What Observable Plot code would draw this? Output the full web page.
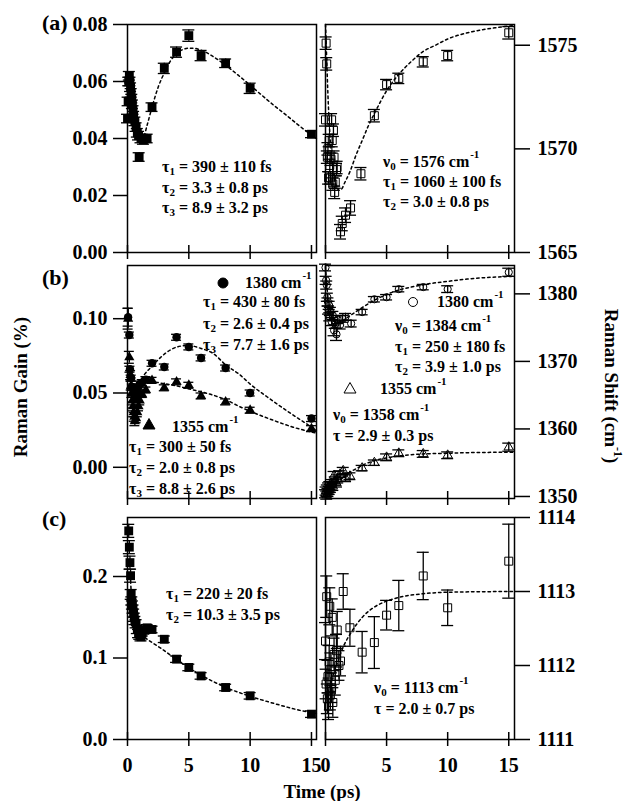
<!DOCTYPE html>
<html><head><meta charset="utf-8">
<script src="https://cdn.jsdelivr.net/npm/d3@7"></script>
<script src="https://cdn.jsdelivr.net/npm/@observablehq/plot@0.6"></script>
<style>
body{margin:0;background:#fff;}
#chart{position:relative;width:624px;height:801px;font-family:"Liberation Serif","Times New Roman",serif;font-weight:bold;color:#000;overflow:hidden;}
.ann{position:absolute;white-space:nowrap;font:bold 16px "Liberation Serif","Times New Roman",serif;line-height:16px;}
.ann sub{font-size:11px;vertical-align:baseline;position:relative;top:3px;}
.ann sup{font-size:11px;vertical-align:baseline;position:relative;top:-9px;margin-left:1px;}
.ttl{position:absolute;white-space:nowrap;font:bold 19px "Liberation Serif","Times New Roman",serif;line-height:19px;}
.ttl sup{font-size:12px;vertical-align:baseline;position:relative;top:-9px;}
.plab{position:absolute;white-space:nowrap;font:bold 22px "Liberation Serif","Times New Roman",serif;line-height:22px;}
</style></head><body><div id="chart"></div>
<script>
// ---------- data ----------
const xTicks = [0, 5, 10, 15];

// (a) gain, filled squares
const aGainT = [0, 0.05, 0.1, 0.15, 0.2, 0.25, 0.3, 0.35, 0.4, 0.45, 0.5, 0.6, 0.7, 0.8, 0.9, 0.95, 1.1, 1.3, 1.6, 2, 3, 4, 5, 6, 8, 10, 15];
const aGainV = [0.047, 0.053, 0.060, 0.062, 0.060, 0.058, 0.056, 0.054, 0.052, 0.050, 0.048, 0.046, 0.044, 0.042, 0.041, 0.0335, 0.040, 0.0395, 0.040, 0.051, 0.0646, 0.0703, 0.0761, 0.0691, 0.0664, 0.0576, 0.0415];
const aGainE = [0.0015, 0.0015, 0.0015, 0.0015, 0.0015, 0.0015, 0.0015, 0.0015, 0.0015, 0.0015, 0.0015, 0.0015, 0.0015, 0.0015, 0.0015, 0.0015, 0.0015, 0.0015, 0.0015, 0.0015, 0.0018, 0.0018, 0.002, 0.0018, 0.0015, 0.0018, 0.0012];
const aGainFitT = [0.3, 0.6, 1.0, 1.3, 1.6, 2, 2.5, 3, 3.5, 4, 4.5, 5, 5.5, 6, 7, 8, 9, 10, 11, 12, 13, 14, 15, 15.4];
const aGainFitV = [0.055, 0.045, 0.040, 0.0405, 0.0447, 0.051, 0.058, 0.063, 0.0672, 0.0698, 0.0712, 0.0717, 0.0716, 0.0710, 0.0687, 0.0657, 0.0623, 0.0587, 0.055, 0.0514, 0.048, 0.0445, 0.0412, 0.040];

// (a) shift, open squares
const aShiftT = [0, 0.05, 0.1, 0.15, 0.2, 0.25, 0.3, 0.35, 0.4, 0.45, 0.5, 0.55, 0.6, 0.65, 0.7, 0.75, 0.8, 0.9, 0.95, 1.23, 1.37, 1.64, 2.05, 2.9, 4, 5, 6, 8, 10, 15];
const aShiftV = [1571.4, 1575.1, 1574.1, 1569.6, 1570.0, 1568.6, 1570.4, 1569.2, 1568.6, 1569.5, 1571.4, 1570.4, 1568.3, 1570.9, 1569.6, 1567.9, 1568.4, 1569.0, 1569.1, 1566.0, 1566.4, 1566.8, 1567.15, 1568.8, 1571.6, 1573.1, 1573.4, 1574.2, 1574.5, 1575.6];
const aShiftE = [0.3, 0.3, 0.3, 0.3, 0.3, 0.3, 0.3, 0.3, 0.3, 0.3, 0.3, 0.3, 0.3, 0.3, 0.3, 0.3, 0.3, 0.3, 0.3, 0.35, 0.35, 0.35, 0.35, 0.3, 0.3, 0.25, 0.25, 0.25, 0.25, 0.3];
const aShiftFitT = [0, 0.1, 0.2, 0.35, 0.5, 0.7, 0.9, 1.1, 1.3, 1.6, 2, 2.5, 3, 3.5, 4, 5, 6, 7, 8, 9, 10, 12, 14, 15.4];
const aShiftFitV = [1576, 1574.3, 1572.6, 1570.8, 1569.7, 1568.7, 1568.2, 1568.0, 1568.05, 1568.4, 1568.9, 1569.7, 1570.4, 1571.1, 1571.7, 1572.8, 1573.6, 1574.2, 1574.7, 1575.0, 1575.3, 1575.65, 1575.85, 1575.95];

// (b) gain: 1380 (circles) and 1355 (triangles)
const b1380GainT = [0.05, 0.15, 0.2, 0.3, 0.4, 0.5, 0.6, 0.7, 0.8, 0.9, 1.0, 1.2, 1.5, 2, 3, 4, 5, 6, 8, 10, 15];
const b1380GainV = [0.101, 0.089, 0.066, 0.060, 0.054, 0.050, 0.047, 0.049, 0.052, 0.054, 0.056, 0.057, 0.059, 0.070, 0.0675, 0.0875, 0.081, 0.0736, 0.0668, 0.050, 0.0328];
const b1380GainE = [0.006, 0.002, 0.002, 0.002, 0.002, 0.002, 0.002, 0.002, 0.002, 0.002, 0.002, 0.002, 0.002, 0.002, 0.002, 0.002, 0.002, 0.002, 0.002, 0.002, 0.002];
const b1355GainT = [0.05, 0.15, 0.25, 0.3, 0.35, 0.4, 0.45, 0.5, 0.55, 0.6, 0.7, 0.8, 0.9, 1.0, 1.2, 1.5, 2, 3, 4, 5, 6, 8, 10, 15];
const b1355GainV = [0.100, 0.074, 0.062, 0.055, 0.050, 0.045, 0.041, 0.037, 0.034, 0.031, 0.033, 0.037, 0.041, 0.045, 0.049, 0.052, 0.0585, 0.0535, 0.0575, 0.0552, 0.048, 0.044, 0.0384, 0.026];
const b1355GainE = [0.007, 0.004, 0.003, 0.003, 0.003, 0.003, 0.003, 0.003, 0.003, 0.003, 0.003, 0.003, 0.003, 0.003, 0.002, 0.002, 0.002, 0.002, 0.002, 0.002, 0.002, 0.002, 0.002, 0.002];
const b1380GainFitT = [0.8, 1.0, 1.33, 2, 2.7, 3.5, 4.05, 4.87, 6, 7, 8, 9.2, 10, 11.4, 13, 15.4];
const b1380GainFitV = [0.057, 0.058, 0.062, 0.068, 0.074, 0.079, 0.081, 0.082, 0.080, 0.0765, 0.069, 0.062, 0.056, 0.0473, 0.038, 0.025];
const b1355GainFitT = [0.8, 1.0, 1.3, 2, 2.96, 4, 4.87, 6, 7, 8, 9.2, 10.5, 11.9, 13.5, 15.4];
const b1355GainFitV = [0.052, 0.054, 0.057, 0.0575, 0.0563, 0.0548, 0.053, 0.0508, 0.0485, 0.0455, 0.0406, 0.036, 0.0316, 0.027, 0.023];

// (b) shift
const b1380ShiftT = [0, 0.05, 0.1, 0.15, 0.2, 0.25, 0.3, 0.35, 0.4, 0.5, 0.6, 0.7, 0.8, 0.9, 1.0, 1.2, 1.4, 1.64, 2.1, 3, 4, 5, 6, 8, 10, 15];
const b1380ShiftV = [1383.9, 1382.0, 1381.3, 1379.5, 1378.8, 1377.6, 1378.3, 1376.6, 1377.4, 1375.9, 1376.8, 1374.6, 1375.5, 1374.0, 1376.2, 1375.4, 1376.3, 1376.6, 1375.6, 1377.3, 1379.2, 1379.5, 1380.7, 1381.0, 1380.7, 1383.2];
const b1380ShiftE = [0.5, 0.6, 0.6, 0.6, 0.6, 0.6, 0.6, 0.6, 0.6, 0.6, 0.6, 0.8, 0.6, 0.9, 0.6, 0.6, 0.5, 0.5, 0.5, 0.4, 0.4, 0.4, 0.4, 0.4, 0.5, 0.6];
const b1355ShiftT = [0, 0.05, 0.1, 0.15, 0.2, 0.25, 0.3, 0.35, 0.4, 0.5, 0.6, 0.7, 0.8, 0.9, 1.0, 1.2, 1.45, 1.64, 2.0, 3, 4, 5, 6, 8, 10, 15];
const b1355ShiftV = [1350.4, 1350.8, 1350.2, 1351.1, 1350.6, 1351.4, 1350.9, 1351.6, 1351.2, 1351.9, 1351.5, 1353.1, 1352.3, 1352.0, 1352.6, 1353.3, 1353.8, 1352.7, 1353.0, 1354.2, 1355.0, 1355.8, 1356.4, 1356.3, 1356.1, 1357.3];
const b1355ShiftE = [0.6, 0.6, 0.6, 0.6, 0.6, 0.6, 0.6, 0.6, 0.6, 0.6, 0.6, 0.6, 0.6, 0.6, 0.6, 0.5, 0.5, 0.5, 0.5, 0.4, 0.4, 0.5, 0.5, 0.5, 0.5, 0.6];
const b1380ShiftFitT = [0, 0.1, 0.2, 0.3, 0.5, 0.7, 1.0, 1.3, 1.64, 2.2, 2.86, 3.95, 5, 5.87, 7, 8.86, 10, 11.6, 13.5, 15.4];
const b1380ShiftFitV = [1384.0, 1381.5, 1379.5, 1378.2, 1376.6, 1375.9, 1375.6, 1375.8, 1376.3, 1377.0, 1377.8, 1379.0, 1379.9, 1380.5, 1381.0, 1381.6, 1381.85, 1382.2, 1382.45, 1382.6];
const b1355ShiftFitT = [0, 0.3, 0.6, 1, 1.5, 2, 2.5, 3, 4, 5, 6, 8, 10, 12, 15.4];
const b1355ShiftFitV = [1350.0, 1350.6, 1351.3, 1352.1, 1352.9, 1353.6, 1354.1, 1354.6, 1355.3, 1355.7, 1356.0, 1356.3, 1356.4, 1356.5, 1356.55];

// (c) gain, filled squares
const cGainT = [0.1, 0.15, 0.2, 0.25, 0.3, 0.35, 0.4, 0.45, 0.5, 0.55, 0.6, 0.7, 0.8, 0.9, 1.0, 1.1, 1.2, 1.4, 1.6, 2, 3, 4, 5, 6, 8, 10, 15];
const cGainV = [0.256, 0.236, 0.217, 0.201, 0.178, 0.170, 0.165, 0.160, 0.155, 0.150, 0.146, 0.142, 0.135, 0.130, 0.128, 0.126, 0.131, 0.134, 0.137, 0.135, 0.123, 0.0986, 0.0884, 0.078, 0.0638, 0.0536, 0.0311];
const cGainE = [0.008, 0.008, 0.008, 0.008, 0.006, 0.005, 0.005, 0.005, 0.005, 0.005, 0.005, 0.005, 0.005, 0.005, 0.005, 0.005, 0.004, 0.004, 0.004, 0.004, 0.004, 0.004, 0.004, 0.004, 0.004, 0.004, 0.004];
const cGainFitT = [0.25, 0.35, 0.5, 0.7, 1, 1.3, 1.6, 2, 3, 4, 5, 6, 7, 8, 10, 12, 14, 15.4];
const cGainFitV = [0.195, 0.170, 0.152, 0.141, 0.132, 0.127, 0.123, 0.119, 0.109, 0.098, 0.088, 0.079, 0.071, 0.064, 0.053, 0.044, 0.036, 0.032];

// (c) shift, open squares
const cShiftT = [0, 0.05, 0.1, 0.15, 0.2, 0.25, 0.3, 0.35, 0.4, 0.45, 0.5, 0.55, 0.6, 0.7, 0.8, 0.9, 0.96, 1.1, 1.23, 1.45, 2.0, 3, 4, 5, 6, 8, 10, 15];
const cShiftV = [1112.33, 1111.75, 1112.93, 1111.55, 1111.85, 1111.45, 1112.05, 1112.8, 1111.6, 1111.95, 1111.7, 1112.65, 1111.5, 1112.15, 1111.8, 1112.2, 1112.48, 1112.0, 1112.06, 1113.0, 1112.51, 1112.18, 1112.31, 1112.68, 1112.81, 1113.21, 1112.78, 1113.41];
const cShiftE = [0.25, 0.2, 0.28, 0.2, 0.22, 0.18, 0.22, 0.25, 0.2, 0.22, 0.2, 0.25, 0.2, 0.22, 0.2, 0.22, 0.25, 0.2, 0.2, 0.24, 0.25, 0.28, 0.35, 0.2, 0.34, 0.32, 0.24, 0.5];
const cShiftFitT = [0, 0.5, 1, 1.5, 2, 3, 4, 5, 6, 8, 10, 15.4];
const cShiftFitV = [1111.5, 1111.8, 1112.05, 1112.27, 1112.42, 1112.65, 1112.79, 1112.87, 1112.92, 1112.97, 1112.99, 1113.0];

// ---------- helpers ----------
const rows = (t, v, e) => t.map((x, i) => ({t: x, v: v[i], e: e ? e[i] : 0}));
const chart = document.getElementById("chart");
const FONT = "'Liberation Serif','Times New Roman',serif";

function errMarks(data, cap) {
  return [
    Plot.ruleX(data, {x: "t", y1: d => d.v - d.e, y2: d => d.v + d.e, stroke: "black", strokeWidth: 1.3}),
    Plot.ruleY(data, {y: d => d.v - d.e, x1: "t", x2: "t", insetLeft: -cap, insetRight: -cap, stroke: "black", strokeWidth: 1.3}),
    Plot.ruleY(data, {y: d => d.v + d.e, x1: "t", x2: "t", insetLeft: -cap, insetRight: -cap, stroke: "black", strokeWidth: 1.3})
  ];
}
function fitLine(t, v) {
  return Plot.line(rows(t, v), {x: "t", y: "v", stroke: "black", strokeWidth: 1.5, strokeDasharray: "2.5,3", curve: "monotone-x"});
}

function panel(o) {
  const left = o.side === "left";
  const mL = left ? 75 : 5, mR = left ? 5 : 75, mT = 5, mB = o.bottom ? 42 : 12;
  const marks = [
    Plot.ruleX(xTicks, {x: d => d, insetTop: o.fh - 7, insetBottom: -7, stroke: "black", strokeWidth: 1.5}),
    Plot.axisY({anchor: o.side, ticks: o.yTicks, tickFormat: o.yFmt, tickSize: left ? 14 : 15, tickPadding: left ? 6 : 8,
      strokeWidth: 1.5, label: null, fontSize: 20, fontWeight: "bold"}),
    o.bottom
      ? Plot.axisX({ticks: xTicks, tickSize: 0, tickPadding: 18, label: null, fontSize: 20, fontWeight: "bold"})
      : Plot.axisX({ticks: [], tickSize: 0, label: null})
  ];
  marks.push(...o.marks);
  marks.push(Plot.frame({stroke: "black", strokeWidth: 1.5}));
  const svg = Plot.plot({
    width: mL + o.fw + mR, height: mT + o.fh + mB,
    marginLeft: mL, marginRight: mR, marginTop: mT, marginBottom: mB,
    x: {type: "linear", domain: o.xd, label: null},
    y: {type: "linear", domain: o.yd, label: null},
    style: {background: "transparent", overflow: "visible", fontFamily: FONT, fontSize: "20px", fontWeight: "bold", color: "black"},
    marks
  });
  svg.style.position = "absolute";
  svg.style.left = (o.fx - mL) + "px";
  svg.style.top = (o.fy - mT) + "px";
  svg.style.maxWidth = "none";
  chart.append(svg);
}

// ---------- panels ----------
const LX = 127, RX = 325, FW = 189;
const xdL = [0, 15.41], xdR = [0, 15.47];
const f2 = d3.format(".2f"), f1 = d3.format(".1f"), f0 = d3.format("d");

const aG = rows(aGainT, aGainV, aGainE);
panel({side: "left", fx: LX, fy: 24, fw: FW, fh: 228, xd: xdL, yd: [0, 0.08], yTicks: [0, 0.02, 0.04, 0.06, 0.08], yFmt: f2,
  marks: [...errMarks(aG, 6), fitLine(aGainFitT, aGainFitV), Plot.dot(aG, {x: "t", y: "v", symbol: "square", r: 5, fill: "black"})]});

const aS = rows(aShiftT, aShiftV, aShiftE);
panel({side: "right", fx: RX, fy: 24, fw: FW, fh: 228, xd: xdR, yd: [1565, 1576], yTicks: [1565, 1570, 1575], yFmt: f0,
  marks: [...errMarks(aS, 6), fitLine(aShiftFitT, aShiftFitV), Plot.dot(aS, {x: "t", y: "v", symbol: "square", r: 4.5, fill: "none", stroke: "black", strokeWidth: 1})]});

const b1G = rows(b1380GainT, b1380GainV, b1380GainE), b2G = rows(b1355GainT, b1355GainV, b1355GainE);
panel({side: "left", fx: LX, fy: 265, fw: FW, fh: 233, xd: xdL, yd: [-0.021, 0.1358], yTicks: [0, 0.05, 0.10], yFmt: f2,
  marks: [...errMarks(b1G, 5), ...errMarks(b2G, 5), fitLine(b1380GainFitT, b1380GainFitV), fitLine(b1355GainFitT, b1355GainFitV),
    Plot.dot(b1G, {x: "t", y: "v", symbol: "circle", r: 4.2, fill: "black"}),
    Plot.dot(b2G, {x: "t", y: "v", symbol: "triangle", r: 3.8, fill: "black"})]});

const b1S = rows(b1380ShiftT, b1380ShiftV, b1380ShiftE), b2S = rows(b1355ShiftT, b1355ShiftV, b1355ShiftE);
panel({side: "right", fx: RX, fy: 265, fw: FW, fh: 233, xd: xdR, yd: [1349.7, 1384.2], yTicks: [1350, 1360, 1370, 1380], yFmt: f0,
  marks: [...errMarks(b1S, 6), ...errMarks(b2S, 6), fitLine(b1380ShiftFitT, b1380ShiftFitV), fitLine(b1355ShiftFitT, b1355ShiftFitV),
    Plot.dot(b1S, {x: "t", y: "v", symbol: "circle", r: 3.6, fill: "none", stroke: "black", strokeWidth: 1}),
    Plot.dot(b2S, {x: "t", y: "v", symbol: "triangle", r: 3.5, fill: "none", stroke: "black", strokeWidth: 1})]});

const cG = rows(cGainT, cGainV, cGainE);
panel({side: "left", bottom: true, fx: LX, fy: 517, fw: FW, fh: 222, xd: xdL, yd: [0, 0.2724], yTicks: [0, 0.1, 0.2], yFmt: f1,
  marks: [...errMarks(cG, 6), fitLine(cGainFitT, cGainFitV), Plot.dot(cG, {x: "t", y: "v", symbol: "square", r: 5, fill: "black"})]});

const cS = rows(cShiftT, cShiftV, cShiftE);
panel({side: "right", bottom: true, fx: RX, fy: 517, fw: FW, fh: 222, xd: xdR, yd: [1111, 1114], yTicks: [1111, 1112, 1113, 1114], yFmt: f0,
  marks: [...errMarks(cS, 6), fitLine(cShiftFitT, cShiftFitV), Plot.dot(cS, {x: "t", y: "v", symbol: "square", r: 4.5, fill: "none", stroke: "black", strokeWidth: 1})]});

// ---------- text ----------
function ann(x, yc, html, cls = "ann", size = 16) {
  const d = document.createElement("div");
  d.className = cls;
  d.style.left = x + "px";
  d.style.top = (yc - size / 2) + "px";
  d.innerHTML = html;
  chart.append(d);
  return d;
}
function sym(x, y, type, filled) {
  const s = d3.create("svg").attr("width", 14).attr("height", 14)
    .style("position", "absolute").style("left", (x - 7) + "px").style("top", (y - 7) + "px").style("overflow", "visible");
  const fill = filled ? "black" : "none";
  if (type === "circle") s.append("circle").attr("cx", 7).attr("cy", 7).attr("r", filled ? 5 : 4.5).attr("fill", fill).attr("stroke", "black").attr("stroke-width", 1);
  else s.append("path").attr("d", "M7,1.5L13,12L1,12Z").attr("fill", fill).attr("stroke", "black").attr("stroke-width", 1);
  chart.append(s.node());
}

ann(42, 23, "(a)", "plab", 22);
ann(42, 278, "(b)", "plab", 22);
ann(42, 519, "(c)", "plab", 22);

// (a)
ann(162, 167, "τ<sub>1</sub> = 390 ± 110 fs");
ann(162, 188, "τ<sub>2</sub> = 3.3 ± 0.8 ps");
ann(162, 208, "τ<sub>3</sub> = 8.9 ± 3.2 ps");
ann(383, 162, "ν<sub>0</sub> = 1576 cm<sup>-1</sup>");
ann(383, 182, "τ<sub>1</sub> = 1060 ± 100 fs");
ann(383, 202, "τ<sub>2</sub> = 3.0 ± 0.8 ps");

// (b) left
sym(223, 283, "circle", true);
ann(245, 283, "1380 cm<sup>-1</sup>");
ann(203, 302, "τ<sub>1</sub> = 430 ± 80 fs");
ann(203, 324, "τ<sub>2</sub> = 2.6 ± 0.4 ps");
ann(203, 345, "τ<sub>3</sub> = 7.7 ± 1.6 ps");
sym(149, 424, "triangle", true);
ann(172, 427, "1355 cm<sup>-1</sup>");
ann(129, 447, "τ<sub>1</sub> = 300 ± 50 fs");
ann(129, 468, "τ<sub>2</sub> = 2.0 ± 0.8 ps");
ann(129, 489, "τ<sub>3</sub> = 8.8 ± 2.6 ps");

// (b) right
sym(413, 302, "circle", false);
ann(437, 302, "1380 cm<sup>-1</sup>");
ann(395, 326, "ν<sub>0</sub> = 1384 cm<sup>-1</sup>");
ann(395, 347, "τ<sub>1</sub> = 250 ± 180 fs");
ann(395, 367, "τ<sub>2</sub> = 3.9 ± 1.0 ps");
sym(350, 388, "triangle", false);
ann(380, 389, "1355 cm<sup>-1</sup>");
ann(333, 415, "ν<sub>0</sub> = 1358 cm<sup>-1</sup>");
ann(333, 436, "τ = 2.9 ± 0.3 ps");

// (c)
ann(166, 594, "τ<sub>1</sub> = 220 ± 20 fs");
ann(166, 615, "τ<sub>2</sub> = 10.3 ± 3.5 ps");
ann(374, 688, "ν<sub>0</sub> = 1113 cm<sup>-1</sup>");
ann(374, 709, "τ = 2.0 ± 0.7 ps");

// axis titles
const t1 = ann(0, 0, "Raman Gain (%)", "ttl", 19);
t1.style.left = "20px"; t1.style.top = "387px"; t1.style.transform = "translate(-50%,-50%) rotate(-90deg)";
const t2 = ann(0, 0, "Raman Shift (cm<sup>-1</sup>)", "ttl", 19);
t2.style.left = "610px"; t2.style.top = "386px"; t2.style.transform = "translate(-50%,-50%) rotate(90deg)";
const t3 = ann(0, 0, "Time (ps)", "ttl", 19);
t3.style.left = "322px"; t3.style.top = "791px"; t3.style.transform = "translate(-50%,-50%)";
</script></body></html>
